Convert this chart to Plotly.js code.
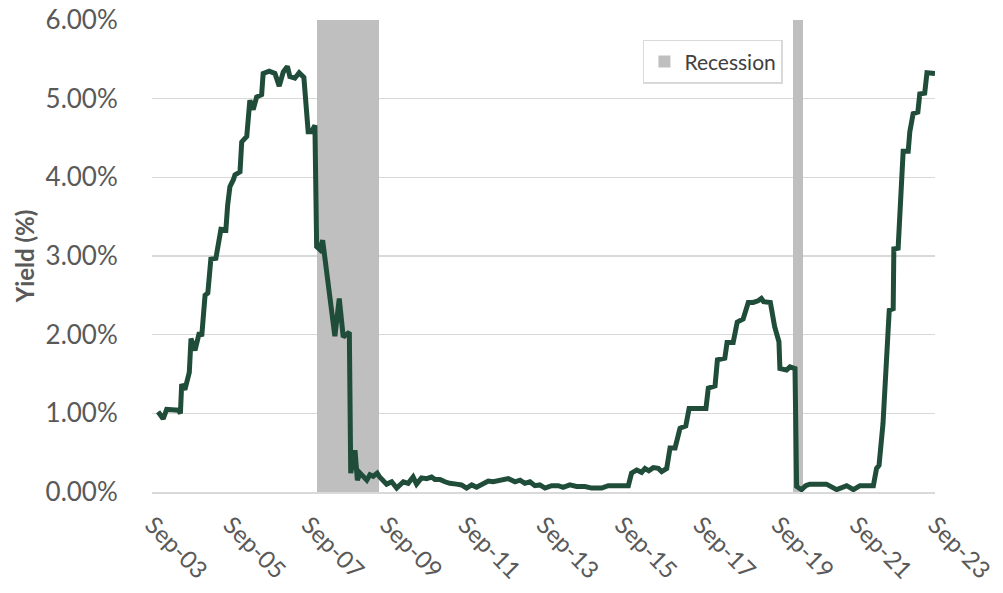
<!DOCTYPE html>
<html>
<head>
<meta charset="utf-8">
<script src="https://cdn.plot.ly/plotly-3.0.1.min.js"></script>
<style>html,body{margin:0;padding:0;background:#fff;}#chart{width:1003px;height:593px;}</style>
</head>
<body>
<div id="chart"></div>
<script>
// Yield series (date, % yield)
const dates = [
 "2003-10-28","2003-12-14","2004-01-16","2004-05-03","2004-05-23","2004-06-04","2004-07-04","2004-08-14","2004-08-30","2004-10-06",
 "2004-11-16","2004-12-08","2005-01-08","2005-02-03","2005-03-03","2005-04-19","2005-06-05","2005-07-21","2005-08-07","2005-08-28",
 "2005-09-29","2005-10-14","2005-11-30","2005-12-16","2006-02-01","2006-03-02","2006-04-02","2006-05-04","2006-06-20","2006-07-04",
 "2006-08-30","2006-10-22","2006-12-01","2007-01-08","2007-02-15","2007-03-10","2007-04-26","2007-06-05","2007-07-19","2007-08-28",
 "2007-09-29","2007-10-30","2007-11-15","2007-12-16","2008-01-10","2008-03-11","2008-05-03","2008-06-13","2008-07-20","2008-09-15",
 "2008-09-28","2008-11-07","2008-11-29","2008-12-24","2009-02-25","2009-03-26","2009-04-26","2009-06-02","2009-06-25","2009-08-29",
 "2009-10-15","2009-12-01","2010-02-01","2010-03-18","2010-05-03","2010-06-04","2010-07-20","2010-09-06","2010-10-22","2010-11-22",
 "2011-01-08","2011-02-24","2011-04-10","2011-06-12","2011-07-28","2011-09-14","2011-11-01","2011-12-16","2012-02-16","2012-04-03",
 "2012-05-19","2012-07-04","2012-08-21","2012-10-07","2012-12-09","2013-01-25","2013-03-10","2013-04-27","2013-06-12","2013-07-28",
 "2013-09-15","2013-11-15","2014-01-16","2014-03-03","2014-05-04","2014-07-06","2014-09-22","2014-11-24","2015-02-25","2015-04-28",
 "2015-11-01","2015-12-01","2016-01-18","2016-03-04","2016-04-04","2016-05-10","2016-06-21","2016-08-07","2016-09-07","2016-10-24",
 "2016-11-24","2017-01-10","2017-02-25","2017-04-20","2017-05-21","2017-10-25","2017-11-16","2018-01-18","2018-02-09","2018-04-19",
 "2018-05-10","2018-07-06","2018-08-13","2018-10-07","2018-11-24","2019-01-09","2019-02-24","2019-03-26","2019-04-16","2019-06-18",
 "2019-07-28","2019-09-06","2019-09-15","2019-11-16","2019-12-18","2020-02-03","2020-02-18","2020-04-04","2020-05-13","2020-06-19",
 "2020-11-22","2021-02-26","2021-05-30","2021-06-28","2021-08-01","2021-10-01","2022-02-03","2022-03-05","2022-03-28","2022-05-04",
 "2022-06-06","2022-07-01","2022-08-07","2022-08-13","2022-09-22","2022-11-08","2022-12-25","2023-01-09","2023-02-09","2023-03-25",
 "2023-04-12","2023-05-28","2023-06-18","2023-09-01"
];
const yields = [
 1.02,0.93,1.05,1.04,1.00,1.37,1.30,1.52,1.95,1.80,
 2.03,1.98,2.50,2.53,2.96,2.97,3.34,3.33,3.65,3.88,
 3.97,4.03,4.07,4.45,4.52,4.98,4.86,5.02,5.05,5.32,
 5.35,5.32,5.16,5.34,5.41,5.28,5.26,5.33,5.27,4.58,
 4.58,4.66,3.12,3.08,3.20,2.48,1.98,2.46,1.97,2.03,
 0.24,0.53,0.15,0.24,0.15,0.22,0.20,0.24,0.19,0.10,
 0.13,0.05,0.13,0.11,0.19,0.10,0.18,0.17,0.19,0.16,
 0.16,0.13,0.11,0.10,0.09,0.05,0.09,0.06,0.11,0.14,
 0.13,0.14,0.16,0.17,0.13,0.15,0.11,0.13,0.08,0.09,
 0.05,0.08,0.08,0.06,0.09,0.07,0.07,0.05,0.05,0.08,
 0.08,0.24,0.28,0.25,0.30,0.27,0.31,0.30,0.26,0.30,
 0.56,0.56,0.81,0.84,1.06,1.06,1.32,1.35,1.68,1.70,
 1.90,1.90,2.16,2.20,2.41,2.41,2.43,2.46,2.42,2.41,
 2.10,1.91,1.57,1.55,1.59,1.57,0.07,0.03,0.08,0.10,
 0.10,0.03,0.08,0.05,0.03,0.08,0.08,0.30,0.34,0.87,
 1.85,2.31,2.33,3.09,3.10,4.33,4.33,4.58,4.81,4.83,
 5.06,5.07,5.33,5.32
];

// NBER recession months (monthly indicator bars)
const recessionMonths = [
 "2007-12-01","2008-01-01","2008-02-01","2008-03-01","2008-04-01","2008-05-01","2008-06-01","2008-07-01",
 "2008-08-01","2008-09-01","2008-10-01","2008-11-01","2008-12-01","2009-01-01","2009-02-01","2009-03-01",
 "2009-04-01","2009-05-01","2009-06-01",
 "2020-02-01","2020-03-01","2020-04-01"
];
const recessionLevel = [6,6,6,6,6,6,6,6,6,6,6,6,6,6,6,6,6,6,6,6,6,6];

const yTicks = [0,1,2,3,4,5,6];
const yTickText = ["0.00%","1.00%","2.00%","3.00%","4.00%","5.00%","6.00%"];
const seriesName = "Yield";
const recessionName = "Recession";
const yTitle = "Yield (%)";

const FONT = "Lato, 'Open Sans', sans-serif";
const MONTH_MS = 30.4375 * 24 * 3600 * 1000;

const traces = [
 {
  type: "bar", name: recessionName, x: recessionMonths, y: recessionLevel,
  width: MONTH_MS, marker: {color: "#bfbfbf", line: {width: 0}},
  hoverinfo: "skip", showlegend: true
 },
 {
  type: "scatter", mode: "lines", name: seriesName, x: dates, y: yields,
  line: {color: "#204d3a", width: 5, shape: "linear"},
  showlegend: false, hoverinfo: "skip"
 }
];

const layout = {
 width: 1003, height: 593,
 margin: {l: 152, r: 68, t: 20, b: 101, pad: 0},
 paper_bgcolor: "#ffffff", plot_bgcolor: "#ffffff",
 font: {family: FONT, color: "#595959", size: 24},
 bargap: 0,
 showlegend: true,
 legend: {
  x: 0.627, y: 0.958, xanchor: "left", yanchor: "top",
  bordercolor: "#d9d9d9", borderwidth: 1.5, bgcolor: "#ffffff",
  font: {family: FONT, size: 21, color: "#404040"}
 },
 xaxis: {
  type: "date",
  range: ["2003-09-01", "2023-09-01"],
  tick0: "2003-09-01", dtick: "M24", tickformat: "%b-%y",
  tickangle: 45,
  tickfont: {family: FONT, size: 24, color: "#595959"},
  showgrid: false, zeroline: false,
  showline: true, linecolor: "#d9d9d9", linewidth: 1.5,
  ticks: "outside", ticklen: 8, tickcolor: "rgba(0,0,0,0)",
  fixedrange: true
 },
 yaxis: {
  range: [0, 6], tickmode: "array", tickvals: yTicks, ticktext: yTickText,
  tickfont: {family: FONT, size: 26, color: "#595959"},
  showgrid: true, gridcolor: "#d9d9d9", gridwidth: 1.5,
  zeroline: false, showline: false,
  ticks: "outside", ticklen: 28, tickcolor: "rgba(0,0,0,0)",
  title: {text: "<b>" + yTitle + "</b>", font: {family: FONT, size: 24, color: "#595959"}, standoff: 4},
  fixedrange: true
 }
};

Plotly.newPlot("chart", traces, layout, {staticPlot: true, displayModeBar: false});
</script>
</body>
</html>
